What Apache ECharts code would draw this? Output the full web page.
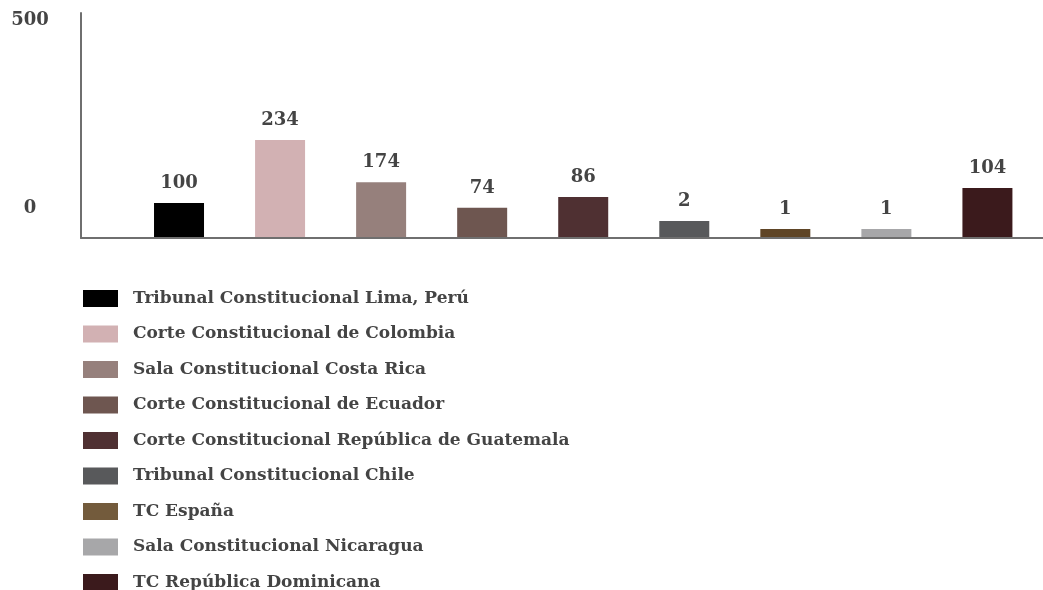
<!DOCTYPE html>
<html>
<head>
<meta charset="utf-8">
<script src="https://cdn.jsdelivr.net/npm/echarts@6/dist/echarts.min.js"></script>
<style>html,body{margin:0;padding:0;background:#fff;}#c{width:1043px;height:590px;}</style>
</head>
<body>
<div id="c"></div>
<script>
var categories = [
  'Tribunal Constitucional Lima, Perú',
  'Corte Constitucional de Colombia',
  'Sala Constitucional Costa Rica',
  'Corte Constitucional de Ecuador',
  'Corte Constitucional República de Guatemala',
  'Tribunal Constitucional Chile',
  'TC España',
  'Sala Constitucional Nicaragua',
  'TC República Dominicana'
];
// values printed above the bars
var valueLabels = [100, 234, 174, 74, 86, 2, 1, 1, 104];
// bar heights as drawn in the picture, in y-axis units (0-500)
var barHeights = [78, 218, 124, 67, 91, 38, 20, 20, 111];
var yTicks = [0, 500];
var colors = ['#000000', '#d2b1b3', '#96807c', '#6e5650', '#4f3032', '#58595b', '#5f4526', '#a7a7a9', '#3b1a1c'];
var legendColors = ['#000000', '#d2b1b3', '#96807c', '#6e5650', '#4f3032', '#58595b', '#735b3c', '#a7a7a9', '#3b1a1c'];

var FONT = '"DejaVu Serif", serif';
var TXT = '#444444';

var series = categories.map(function (name, i) {
  var data = categories.map(function (_, j) { return j === i ? [j, barHeights[j]] : null; });
  return {
    name: name,
    type: 'bar',
    stack: 'all',
    barWidth: 50,
    data: data,
    itemStyle: { color: colors[i] },
    label: {
      show: true,
      position: 'top',
      distance: 11,
      fontFamily: FONT,
      fontWeight: 'bold',
      fontSize: 18,
      color: TXT,
      formatter: function () { return String(valueLabels[i]); }
    }
  };
});

var chart = echarts.init(document.getElementById('c'), null, { renderer: 'canvas' });
chart.setOption({
  animation: false,
  backgroundColor: '#fff',
  grid: { left: 81, right: 0, top: 13, bottom: 352, containLabel: false },
  xAxis: {
    type: 'value',
    min: -0.97,
    max: 8.55,
    z: 5,
    splitLine: { show: false },
    axisTick: { show: false },
    axisLabel: { show: false },
    axisLine: { show: true, onZero: false, lineStyle: { color: '#6f6f6f', width: 2 } }
  },
  yAxis: {
    type: 'value',
    min: 0,
    max: 500,
    interval: 500,
    splitLine: { show: false },
    axisTick: { show: false },
    axisLine: { show: true, onZero: false, lineStyle: { color: '#6f6f6f', width: 2 } },
    axisLabel: {
      show: true,
      margin: 51,
      align: 'center',
      verticalAlign: 'middle',
      formatter: function (v) {
        return v === yTicks[0] ? '{z|' + v + '}' : '{t|' + v + '}';
      },
      rich: {
        z: { fontFamily: FONT, fontWeight: 'bold', fontSize: 18, color: TXT, padding: [0, 0, 60, 0] },
        t: { fontFamily: FONT, fontWeight: 'bold', fontSize: 18, color: TXT, padding: [14, 0, 0, 0] }
      }
    }
  },
  legend: {
    orient: 'vertical',
    left: 83,
    top: 290,
    height: 320,
    padding: 0,
    itemWidth: 35,
    itemHeight: 17,
    itemGap: 18.5,
    icon: 'rect',
    textStyle: { fontFamily: FONT, fontWeight: 'bold', fontSize: 17, color: TXT, padding: [0, 0, 0, 10] },
    data: categories.map(function (n, i) { return { name: n, itemStyle: { color: legendColors[i] } }; }),
    selectedMode: false
  },
  series: series
});
</script>
</body>
</html>
